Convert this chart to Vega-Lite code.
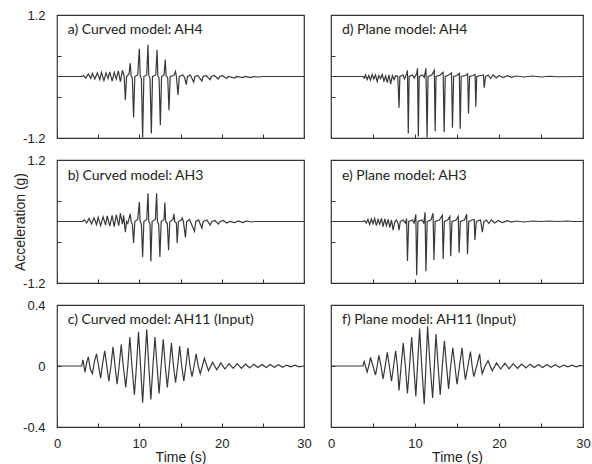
{
"$schema": "https://vega.github.io/schema/vega-lite/v6.json",
"background": "white",
"padding": {"left": 12, "top": 8, "right": 5, "bottom": 0},
"config": {
 "view": {"stroke": "#333", "strokeWidth": 1.2},
 "axis": {"labelFont": "Liberation Sans", "labelFontSize": 13, "labelColor": "#222", "titleFont": "Liberation Sans", "titleFontSize": 14, "titleFontWeight": "normal", "titleColor": "#222", "grid": false, "domain": false, "tickColor": "#333", "tickSize": -4, "tickWidth": 1, "labelFlush": false, "labelPadding": 16, "labelOverlap": false}
},
"datasets": {
 "a": [{"t":0,"v":0},{"t":3.0,"v":0},{"t":3.2,"v":0.02},{"t":3.5,"v":-0.03},{"t":3.8,"v":0.05},{"t":4.1,"v":-0.04},{"t":4.3,"v":0.06},{"t":4.6,"v":-0.05},{"t":4.9,"v":0.07},{"t":5.2,"v":-0.06},{"t":5.4,"v":0.08},{"t":5.7,"v":-0.08},{"t":5.95,"v":0.07},{"t":6.2,"v":-0.04},{"t":6.4,"v":0.09},{"t":6.7,"v":-0.09},{"t":6.95,"v":0.08},{"t":7.2,"v":-0.05},{"t":7.45,"v":0.11},{"t":7.7,"v":-0.1},{"t":7.95,"v":0.12},{"t":8.15,"v":0.02},{"t":8.3,"v":-0.46},{"t":8.45,"v":0},{"t":8.75,"v":0.05},{"t":8.9,"v":0.26},{"t":9.0,"v":0.02},{"t":9.15,"v":-0.03},{"t":9.3,"v":-0.8},{"t":9.45,"v":0},{"t":9.8,"v":0.03},{"t":10.0,"v":0.54},{"t":10.1,"v":0.02},{"t":10.25,"v":-0.05},{"t":10.4,"v":-1.19},{"t":10.55,"v":0},{"t":10.9,"v":0.03},{"t":11.05,"v":0.62},{"t":11.15,"v":0.02},{"t":11.3,"v":-0.04},{"t":11.46,"v":-1.11},{"t":11.6,"v":0},{"t":12.0,"v":0.03},{"t":12.15,"v":0.52},{"t":12.25,"v":0.02},{"t":12.4,"v":-0.04},{"t":12.55,"v":-0.95},{"t":12.7,"v":0},{"t":13.0,"v":0.03},{"t":13.15,"v":0.33},{"t":13.25,"v":0.02},{"t":13.45,"v":-0.03},{"t":13.6,"v":-0.66},{"t":13.75,"v":0},{"t":14.2,"v":0.02},{"t":14.4,"v":0.1},{"t":14.5,"v":0},{"t":14.7,"v":-0.36},{"t":14.85,"v":0},{"t":15.3,"v":0.03},{"t":15.5,"v":-0.02},{"t":15.7,"v":-0.16},{"t":15.85,"v":0},{"t":16.2,"v":0.03},{"t":16.6,"v":-0.11},{"t":16.75,"v":0},{"t":17.1,"v":0.02},{"t":17.6,"v":-0.09},{"t":17.75,"v":0},{"t":18.1,"v":0.02},{"t":18.6,"v":-0.06},{"t":18.75,"v":0},{"t":19.1,"v":0.02},{"t":19.6,"v":-0.05},{"t":19.75,"v":0},{"t":20.1,"v":0.015},{"t":20.6,"v":-0.04},{"t":20.8,"v":0},{"t":21.6,"v":-0.03},{"t":21.8,"v":0},{"t":22.6,"v":-0.02},{"t":22.8,"v":0},{"t":23.6,"v":-0.02},{"t":23.8,"v":0},{"t":24.6,"v":-0.01},{"t":25,"v":0},{"t":30,"v":0}],
 "d": [{"t":0,"v":0},{"t":3.8,"v":0},{"t":3.95,"v":-0.03},{"t":4.1,"v":0.03},{"t":4.3,"v":-0.06},{"t":4.5,"v":0.02},{"t":4.7,"v":-0.07},{"t":4.9,"v":0.04},{"t":5.1,"v":-0.05},{"t":5.3,"v":0.03},{"t":5.5,"v":-0.1},{"t":5.7,"v":0.02},{"t":5.9,"v":-0.04},{"t":6.1,"v":0.04},{"t":6.3,"v":-0.09},{"t":6.5,"v":0.01},{"t":6.7,"v":-0.12},{"t":6.9,"v":0.03},{"t":7.1,"v":-0.15},{"t":7.3,"v":0.02},{"t":7.5,"v":-0.06},{"t":7.7,"v":0.02},{"t":7.95,"v":0},{"t":8.1,"v":-0.61},{"t":8.2,"v":0},{"t":8.6,"v":0.03},{"t":8.75,"v":-0.05},{"t":9.0,"v":0.05},{"t":9.1,"v":0.12},{"t":9.2,"v":-1.11},{"t":9.3,"v":0},{"t":9.7,"v":0.03},{"t":9.9,"v":-0.03},{"t":10.2,"v":0.05},{"t":10.3,"v":0.16},{"t":10.4,"v":-1.17},{"t":10.5,"v":0},{"t":10.9,"v":0.03},{"t":11.1,"v":-0.02},{"t":11.3,"v":0.16},{"t":11.44,"v":-1.19},{"t":11.55,"v":0},{"t":12.0,"v":0.03},{"t":12.3,"v":0.12},{"t":12.4,"v":-1.07},{"t":12.5,"v":0},{"t":13.0,"v":0.03},{"t":13.35,"v":0.08},{"t":13.47,"v":-1.09},{"t":13.6,"v":0},{"t":14.0,"v":0.03},{"t":14.35,"v":0.07},{"t":14.46,"v":-1.0},{"t":14.6,"v":0},{"t":15.0,"v":0.02},{"t":15.28,"v":0.06},{"t":15.38,"v":-1.02},{"t":15.5,"v":0},{"t":16.0,"v":0.02},{"t":16.27,"v":0.05},{"t":16.37,"v":-0.72},{"t":16.5,"v":0},{"t":16.9,"v":0.02},{"t":17.15,"v":0.04},{"t":17.24,"v":-0.59},{"t":17.35,"v":0},{"t":17.9,"v":0.02},{"t":18.15,"v":0.03},{"t":18.24,"v":-0.22},{"t":18.4,"v":0},{"t":18.7,"v":0.03},{"t":19.0,"v":-0.04},{"t":19.3,"v":0.03},{"t":19.7,"v":-0.03},{"t":20.0,"v":0.02},{"t":20.5,"v":-0.02},{"t":21.0,"v":0.015},{"t":21.5,"v":-0.015},{"t":22,"v":0.01},{"t":23,"v":-0.01},{"t":24,"v":0.01},{"t":25,"v":-0.01},{"t":26,"v":0.005},{"t":27,"v":-0.005},{"t":30,"v":0}],
 "b": [{"t":0,"v":0},{"t":3.1,"v":0},{"t":3.3,"v":0.03},{"t":3.6,"v":-0.03},{"t":3.9,"v":0.06},{"t":4.2,"v":-0.05},{"t":4.5,"v":0.07},{"t":4.8,"v":-0.06},{"t":5.0,"v":0.08},{"t":5.3,"v":-0.08},{"t":5.6,"v":0.09},{"t":5.9,"v":-0.07},{"t":6.1,"v":0.11},{"t":6.4,"v":-0.09},{"t":6.7,"v":0.12},{"t":6.95,"v":-0.1},{"t":7.2,"v":0.13},{"t":7.5,"v":-0.08},{"t":7.7,"v":0.16},{"t":7.95,"v":-0.05},{"t":8.1,"v":0.12},{"t":8.3,"v":-0.21},{"t":8.45,"v":0},{"t":8.6,"v":-0.04},{"t":8.9,"v":0.15},{"t":9.0,"v":0},{"t":9.15,"v":-0.05},{"t":9.3,"v":-0.42},{"t":9.45,"v":0},{"t":9.8,"v":0.04},{"t":10.0,"v":0.38},{"t":10.1,"v":0},{"t":10.25,"v":-0.05},{"t":10.4,"v":-0.69},{"t":10.55,"v":0},{"t":10.9,"v":0.04},{"t":11.05,"v":0.55},{"t":11.15,"v":0},{"t":11.3,"v":-0.05},{"t":11.4,"v":-0.78},{"t":11.55,"v":0},{"t":11.95,"v":0.04},{"t":12.1,"v":0.55},{"t":12.2,"v":0},{"t":12.35,"v":-0.05},{"t":12.5,"v":-0.69},{"t":12.65,"v":0},{"t":13.0,"v":0.04},{"t":13.1,"v":0.37},{"t":13.2,"v":0},{"t":13.4,"v":-0.04},{"t":13.55,"v":-0.56},{"t":13.7,"v":0},{"t":14.1,"v":0.04},{"t":14.2,"v":0.15},{"t":14.3,"v":0},{"t":14.5,"v":-0.03},{"t":14.6,"v":-0.42},{"t":14.75,"v":0},{"t":15.1,"v":0.03},{"t":15.2,"v":0.07},{"t":15.35,"v":0},{"t":15.6,"v":-0.31},{"t":15.75,"v":0},{"t":16.1,"v":0.04},{"t":16.25,"v":-0.02},{"t":16.7,"v":-0.19},{"t":16.85,"v":0},{"t":17.2,"v":0.03},{"t":17.6,"v":-0.13},{"t":17.75,"v":0},{"t":18.2,"v":0.03},{"t":18.6,"v":-0.07},{"t":18.8,"v":0},{"t":19.2,"v":0.02},{"t":19.6,"v":-0.05},{"t":19.8,"v":0},{"t":20.2,"v":0.02},{"t":20.6,"v":-0.03},{"t":21,"v":0},{"t":21.6,"v":-0.02},{"t":22,"v":0.01},{"t":22.6,"v":-0.02},{"t":23,"v":0.01},{"t":23.6,"v":-0.01},{"t":24,"v":0},{"t":30,"v":0}],
 "e": [{"t":0,"v":0},{"t":3.8,"v":0},{"t":4.0,"v":0.02},{"t":4.2,"v":-0.03},{"t":4.4,"v":0.04},{"t":4.6,"v":-0.06},{"t":4.8,"v":0.05},{"t":5.0,"v":-0.04},{"t":5.2,"v":0.06},{"t":5.4,"v":-0.08},{"t":5.6,"v":0.04},{"t":5.8,"v":-0.05},{"t":6.0,"v":0.06},{"t":6.2,"v":-0.1},{"t":6.4,"v":0.05},{"t":6.6,"v":-0.08},{"t":6.8,"v":0.04},{"t":7.0,"v":-0.12},{"t":7.2,"v":0.03},{"t":7.4,"v":-0.17},{"t":7.6,"v":0},{"t":7.8,"v":0.03},{"t":8.0,"v":-0.05},{"t":8.1,"v":-0.17},{"t":8.25,"v":0},{"t":8.6,"v":0.03},{"t":8.85,"v":-0.03},{"t":9.0,"v":0.06},{"t":9.1,"v":-0.77},{"t":9.25,"v":0},{"t":9.7,"v":0.03},{"t":9.9,"v":-0.03},{"t":10.1,"v":0.14},{"t":10.2,"v":-1.05},{"t":10.35,"v":0},{"t":10.8,"v":0.03},{"t":11.05,"v":-0.03},{"t":11.2,"v":0.18},{"t":11.3,"v":-0.97},{"t":11.45,"v":0},{"t":11.9,"v":0.03},{"t":12.15,"v":0.16},{"t":12.25,"v":-0.75},{"t":12.4,"v":0},{"t":12.9,"v":0.03},{"t":13.25,"v":0.12},{"t":13.35,"v":-0.73},{"t":13.5,"v":0},{"t":13.9,"v":0.03},{"t":14.15,"v":0.1},{"t":14.25,"v":-0.68},{"t":14.4,"v":0},{"t":14.9,"v":0.03},{"t":15.15,"v":0.1},{"t":15.25,"v":-0.61},{"t":15.4,"v":0},{"t":15.9,"v":0.03},{"t":16.15,"v":0.14},{"t":16.25,"v":-0.64},{"t":16.4,"v":0},{"t":16.8,"v":0.03},{"t":17.05,"v":0.04},{"t":17.13,"v":-0.36},{"t":17.3,"v":0},{"t":17.8,"v":0.03},{"t":18.02,"v":-0.21},{"t":18.2,"v":0},{"t":18.5,"v":0.03},{"t":18.8,"v":-0.04},{"t":19.1,"v":0.03},{"t":19.5,"v":-0.03},{"t":19.9,"v":0.02},{"t":20.4,"v":-0.02},{"t":21,"v":0.015},{"t":21.5,"v":-0.01},{"t":22,"v":0.01},{"t":23,"v":-0.01},{"t":24,"v":0.01},{"t":25,"v":0},{"t":26,"v":0.01},{"t":27,"v":0},{"t":28,"v":0.01},{"t":29,"v":0},{"t":30,"v":0}],
 "c": [{"t":0,"v":0},{"t":3.0,"v":0},{"t":3.15,"v":0.04},{"t":3.4,"v":-0.04},{"t":3.6,"v":0.02},{"t":3.8,"v":0.06},{"t":4.05,"v":-0.02},{"t":4.3,"v":-0.05},{"t":4.55,"v":0.03},{"t":4.8,"v":0.08},{"t":5.05,"v":0},{"t":5.3,"v":-0.08},{"t":5.55,"v":0.02},{"t":5.8,"v":0.1},{"t":6.05,"v":0},{"t":6.3,"v":-0.1},{"t":6.55,"v":0},{"t":6.8,"v":0.125},{"t":7.05,"v":0},{"t":7.3,"v":-0.12},{"t":7.55,"v":0},{"t":7.8,"v":0.14},{"t":8.05,"v":0},{"t":8.35,"v":-0.14},{"t":8.6,"v":0},{"t":8.85,"v":0.19},{"t":9.1,"v":0},{"t":9.4,"v":-0.19},{"t":9.65,"v":0},{"t":9.9,"v":0.225},{"t":10.15,"v":0},{"t":10.4,"v":-0.24},{"t":10.65,"v":0},{"t":10.9,"v":0.24},{"t":11.15,"v":0},{"t":11.4,"v":-0.22},{"t":11.65,"v":0},{"t":11.9,"v":0.19},{"t":12.15,"v":0},{"t":12.4,"v":-0.18},{"t":12.65,"v":0},{"t":12.9,"v":0.175},{"t":13.15,"v":0},{"t":13.4,"v":-0.14},{"t":13.65,"v":0},{"t":13.9,"v":0.15},{"t":14.15,"v":0},{"t":14.4,"v":-0.11},{"t":14.65,"v":0},{"t":14.9,"v":0.13},{"t":15.15,"v":0},{"t":15.4,"v":-0.1},{"t":15.65,"v":0},{"t":15.9,"v":0.12},{"t":16.15,"v":0},{"t":16.4,"v":-0.07},{"t":16.65,"v":0},{"t":16.9,"v":0.08},{"t":17.15,"v":0},{"t":17.4,"v":-0.05},{"t":17.65,"v":0},{"t":17.9,"v":0.05},{"t":18.4,"v":-0.03},{"t":18.9,"v":0.025},{"t":19.4,"v":-0.025},{"t":19.9,"v":0.02},{"t":20.4,"v":-0.02},{"t":20.9,"v":0.015},{"t":21.4,"v":-0.015},{"t":21.9,"v":0.015},{"t":22.4,"v":-0.015},{"t":22.9,"v":0.012},{"t":23.4,"v":-0.012},{"t":23.9,"v":0.012},{"t":24.4,"v":-0.01},{"t":24.9,"v":0.01},{"t":25.4,"v":-0.01},{"t":25.9,"v":0.01},{"t":26.4,"v":-0.008},{"t":26.9,"v":0.008},{"t":27.4,"v":-0.008},{"t":27.9,"v":0.006},{"t":28.4,"v":-0.006},{"t":28.9,"v":0.005},{"t":29.4,"v":-0.005},{"t":30,"v":0}],
 "f": [{"t":0,"v":0},{"t":3.8,"v":0},{"t":3.95,"v":0.03},{"t":4.1,"v":0},{"t":4.3,"v":-0.04},{"t":4.5,"v":0},{"t":4.7,"v":0.056},{"t":5.0,"v":0},{"t":5.3,"v":-0.06},{"t":5.5,"v":0},{"t":5.7,"v":0.07},{"t":5.95,"v":0},{"t":6.2,"v":-0.085},{"t":6.45,"v":0},{"t":6.7,"v":0.09},{"t":6.95,"v":0},{"t":7.2,"v":-0.1},{"t":7.45,"v":0},{"t":7.7,"v":0.1},{"t":7.9,"v":0},{"t":8.1,"v":-0.16},{"t":8.35,"v":0},{"t":8.6,"v":0.15},{"t":8.85,"v":0},{"t":9.1,"v":-0.18},{"t":9.35,"v":0},{"t":9.6,"v":0.19},{"t":9.85,"v":0},{"t":10.1,"v":-0.2},{"t":10.3,"v":0},{"t":10.55,"v":0.245},{"t":10.8,"v":0},{"t":11.1,"v":-0.25},{"t":11.3,"v":0},{"t":11.5,"v":0.26},{"t":11.8,"v":0},{"t":12.1,"v":-0.21},{"t":12.3,"v":0},{"t":12.5,"v":0.21},{"t":12.75,"v":0},{"t":13.0,"v":-0.19},{"t":13.25,"v":0},{"t":13.5,"v":0.165},{"t":13.75,"v":0},{"t":14.0,"v":-0.15},{"t":14.25,"v":0},{"t":14.5,"v":0.12},{"t":14.75,"v":0},{"t":15.0,"v":-0.12},{"t":15.3,"v":0},{"t":15.6,"v":0.12},{"t":15.8,"v":0},{"t":16.0,"v":-0.09},{"t":16.3,"v":0},{"t":16.6,"v":0.095},{"t":16.8,"v":0},{"t":17.0,"v":-0.07},{"t":17.35,"v":0},{"t":17.7,"v":0.08},{"t":17.85,"v":0},{"t":18.0,"v":-0.05},{"t":18.35,"v":0},{"t":18.7,"v":0.035},{"t":18.95,"v":0},{"t":19.2,"v":-0.03},{"t":19.7,"v":0.02},{"t":20.2,"v":-0.02},{"t":20.7,"v":0.018},{"t":21.2,"v":-0.018},{"t":21.7,"v":0.015},{"t":22.2,"v":-0.015},{"t":22.7,"v":0.012},{"t":23.2,"v":-0.012},{"t":23.7,"v":0.012},{"t":24.2,"v":-0.01},{"t":24.7,"v":0.01},{"t":25.2,"v":-0.01},{"t":25.7,"v":0.01},{"t":26.2,"v":-0.008},{"t":26.7,"v":0.008},{"t":27.2,"v":-0.008},{"t":27.7,"v":0.006},{"t":28.2,"v":-0.006},{"t":28.7,"v":0.005},{"t":29.2,"v":-0.005},{"t":29.7,"v":0.004},{"t":30,"v":0}]
},
"columns": 2,
"spacing": {"row": 7, "column": 14},
"concat": [
 {"width": 247, "height": 123, "layer": [
  {"data": {"name": "a"}, "mark": {"type": "line", "color": "#383838", "strokeWidth": 1.2},
   "encoding": {"x": {"field": "t", "type": "quantitative", "scale": {"domain": [0, 30], "nice": false}, "axis": {"values": [0,5,10,15,20,25,30], "labels": false, "title": null}},
    "y": {"field": "v", "type": "quantitative", "scale": {"domain": [-1.2, 1.2], "nice": false}, "axis": {"values": [-1.2,-1,-0.8,-0.6,-0.4,-0.2,0,0.2,0.4,0.6,0.8,1,1.2], "labelExpr": "datum.value == 0 ? '0' : datum.value > 1.1 ? '1.2' : datum.value < -1.1 ? '-1.2' : ''", "title": null}}}},
  {"data": {"values": [{"t": 1.3, "v": 0.91, "label": "a) Curved model: AH4"}]}, "mark": {"type": "text", "align": "left", "baseline": "middle", "font": "Lato", "fontSize": 14, "color": "#222"},
   "encoding": {"x": {"field": "t", "type": "quantitative"}, "y": {"field": "v", "type": "quantitative"}, "text": {"field": "label"}}}
 ]},
 {"width": 252, "height": 123, "layer": [
  {"data": {"name": "d"}, "mark": {"type": "line", "color": "#383838", "strokeWidth": 1.2},
   "encoding": {"x": {"field": "t", "type": "quantitative", "scale": {"domain": [0, 30], "nice": false}, "axis": {"values": [0,5,10,15,20,25,30], "labels": false, "title": null}},
    "y": {"field": "v", "type": "quantitative", "scale": {"domain": [-1.2, 1.2], "nice": false}, "axis": {"values": [-1.2,-1,-0.8,-0.6,-0.4,-0.2,0,0.2,0.4,0.6,0.8,1,1.2], "labels": false, "title": null}}}},
  {"data": {"values": [{"t": 1.3, "v": 0.91, "label": "d) Plane model: AH4"}]}, "mark": {"type": "text", "align": "left", "baseline": "middle", "font": "Lato", "fontSize": 14, "color": "#222"},
   "encoding": {"x": {"field": "t", "type": "quantitative"}, "y": {"field": "v", "type": "quantitative"}, "text": {"field": "label"}}}
 ]},
 {"width": 247, "height": 123, "layer": [
  {"data": {"name": "b"}, "mark": {"type": "line", "color": "#383838", "strokeWidth": 1.2},
   "encoding": {"x": {"field": "t", "type": "quantitative", "scale": {"domain": [0, 30], "nice": false}, "axis": {"values": [0,5,10,15,20,25,30], "labels": false, "title": null}},
    "y": {"field": "v", "type": "quantitative", "scale": {"domain": [-1.2, 1.2], "nice": false}, "axis": {"values": [-1.2,-1,-0.8,-0.6,-0.4,-0.2,0,0.2,0.4,0.6,0.8,1,1.2], "labelExpr": "datum.value == 0 ? '0' : datum.value > 1.1 ? '1.2' : datum.value < -1.1 ? '-1.2' : ''", "title": "Acceleration (g)", "titlePadding": -5}}}},
  {"data": {"values": [{"t": 1.3, "v": 0.89, "label": "b) Curved model: AH3"}]}, "mark": {"type": "text", "align": "left", "baseline": "middle", "font": "Lato", "fontSize": 14, "color": "#222"},
   "encoding": {"x": {"field": "t", "type": "quantitative"}, "y": {"field": "v", "type": "quantitative"}, "text": {"field": "label"}}}
 ]},
 {"width": 252, "height": 123, "layer": [
  {"data": {"name": "e"}, "mark": {"type": "line", "color": "#383838", "strokeWidth": 1.2},
   "encoding": {"x": {"field": "t", "type": "quantitative", "scale": {"domain": [0, 30], "nice": false}, "axis": {"values": [0,5,10,15,20,25,30], "labels": false, "title": null}},
    "y": {"field": "v", "type": "quantitative", "scale": {"domain": [-1.2, 1.2], "nice": false}, "axis": {"values": [-1.2,-1,-0.8,-0.6,-0.4,-0.2,0,0.2,0.4,0.6,0.8,1,1.2], "labels": false, "title": null}}}},
  {"data": {"values": [{"t": 1.3, "v": 0.89, "label": "e) Plane model: AH3"}]}, "mark": {"type": "text", "align": "left", "baseline": "middle", "font": "Lato", "fontSize": 14, "color": "#222"},
   "encoding": {"x": {"field": "t", "type": "quantitative"}, "y": {"field": "v", "type": "quantitative"}, "text": {"field": "label"}}}
 ]},
 {"width": 247, "height": 122, "layer": [
  {"data": {"name": "c"}, "mark": {"type": "line", "color": "#383838", "strokeWidth": 1.2},
   "encoding": {"x": {"field": "t", "type": "quantitative", "scale": {"domain": [0, 30], "nice": false}, "axis": {"values": [0,5,10,15,20,25,30], "labelExpr": "datum.value % 10 == 0 ? datum.label : ''", "title": "Time (s)", "labelPadding": 14, "titlePadding": 0}},
    "y": {"field": "v", "type": "quantitative", "scale": {"domain": [-0.4, 0.4], "nice": false}, "axis": {"values": [-0.4,-0.35,-0.3,-0.25,-0.2,-0.15,-0.1,-0.05,0,0.05,0.1,0.15,0.2,0.25,0.3,0.35,0.4], "labelExpr": "datum.value == 0 ? '0' : datum.value > 0.38 ? '0.4' : datum.value < -0.38 ? '-0.4' : ''", "title": null}}}},
  {"data": {"values": [{"t": 1.3, "v": 0.3, "label": "c) Curved model: AH11 (Input)"}]}, "mark": {"type": "text", "align": "left", "baseline": "middle", "font": "Lato", "fontSize": 14, "color": "#222"},
   "encoding": {"x": {"field": "t", "type": "quantitative"}, "y": {"field": "v", "type": "quantitative"}, "text": {"field": "label"}}}
 ]},
 {"width": 252, "height": 122, "layer": [
  {"data": {"name": "f"}, "mark": {"type": "line", "color": "#383838", "strokeWidth": 1.2},
   "encoding": {"x": {"field": "t", "type": "quantitative", "scale": {"domain": [0, 30], "nice": false}, "axis": {"values": [0,5,10,15,20,25,30], "labelExpr": "datum.value % 10 == 0 ? datum.label : ''", "title": "Time (s)", "labelPadding": 14, "titlePadding": 0}},
    "y": {"field": "v", "type": "quantitative", "scale": {"domain": [-0.4, 0.4], "nice": false}, "axis": {"values": [-0.4,-0.35,-0.3,-0.25,-0.2,-0.15,-0.1,-0.05,0,0.05,0.1,0.15,0.2,0.25,0.3,0.35,0.4], "labels": false, "title": null}}}},
  {"data": {"values": [{"t": 1.3, "v": 0.3, "label": "f) Plane model: AH11 (Input)"}]}, "mark": {"type": "text", "align": "left", "baseline": "middle", "font": "Lato", "fontSize": 14, "color": "#222"},
   "encoding": {"x": {"field": "t", "type": "quantitative"}, "y": {"field": "v", "type": "quantitative"}, "text": {"field": "label"}}}
 ]}
]
}
